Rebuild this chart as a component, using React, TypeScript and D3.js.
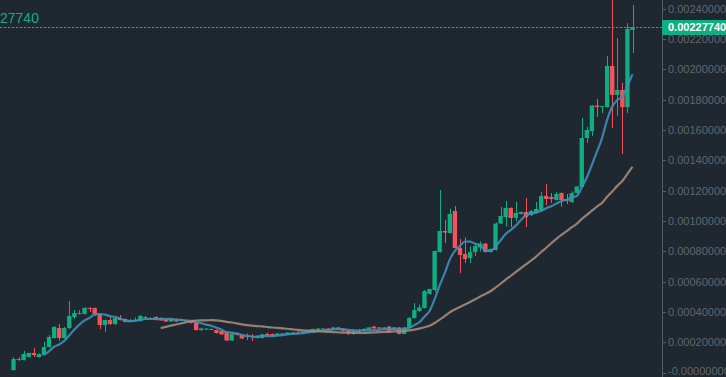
import React from 'react';
import * as d3 from 'd3';

const opens = [
  0.000016, 0.000082, 0.000082, 0.000102, 0.000129, 0.000102, 0.000115, 0.000168, 0.000227, 0.000293,
  0.000227, 0.000293, 0.000366, 0.000386, 0.000386, 0.000425, 0.000425, 0.000386, 0.000313, 0.000346,
  0.000320, 0.000359, 0.000353, 0.000340, 0.000340, 0.000340, 0.000359, 0.000356, 0.000366, 0.000359,
  0.000353, 0.000336, 0.000353, 0.000343, 0.000346, 0.000343, 0.000330, 0.000280, 0.000283, 0.000283,
  0.000280, 0.000274, 0.000267, 0.000211, 0.000257, 0.000251, 0.000244, 0.000241, 0.000227, 0.000227,
  0.000254, 0.000254, 0.000247, 0.000251, 0.000251, 0.000257, 0.000264, 0.000260, 0.000264, 0.000264,
  0.000280, 0.000283, 0.000290, 0.000283, 0.000297, 0.000287, 0.000280, 0.000257, 0.000277, 0.000277,
  0.000283, 0.000303, 0.000297, 0.000290, 0.000303, 0.000280, 0.000297, 0.000254, 0.000293, 0.000359,
  0.000405, 0.000425, 0.000518, 0.000544, 0.000794, 0.000933, 0.000920, 0.001065, 0.000821, 0.000781,
  0.000755, 0.000794, 0.000824, 0.000850, 0.000794, 0.000808, 0.000982, 0.001025, 0.001085, 0.001019,
  0.001045, 0.001058, 0.001038, 0.001052, 0.001071, 0.001164, 0.001157, 0.001137, 0.001183, 0.001144,
  0.001124, 0.001183, 0.001223, 0.001546, 0.001592, 0.001760, 0.001750, 0.001750, 0.002021, 0.001830,
  0.001863, 0.001750, 0.002258,
];

const highs = [
  0.000102, 0.000102, 0.000142, 0.000129, 0.000162, 0.000125, 0.000201, 0.000247, 0.000307, 0.000320,
  0.000300, 0.000471, 0.000412, 0.000412, 0.000432, 0.000432, 0.000429, 0.000389, 0.000349, 0.000366,
  0.000363, 0.000379, 0.000356, 0.000353, 0.000363, 0.000379, 0.000373, 0.000366, 0.000373, 0.000363,
  0.000356, 0.000359, 0.000356, 0.000353, 0.000349, 0.000346, 0.000333, 0.000297, 0.000290, 0.000290,
  0.000283, 0.000277, 0.000270, 0.000260, 0.000260, 0.000254, 0.000257, 0.000254, 0.000247, 0.000254,
  0.000264, 0.000257, 0.000260, 0.000260, 0.000264, 0.000267, 0.000274, 0.000270, 0.000277, 0.000290,
  0.000293, 0.000293, 0.000293, 0.000303, 0.000300, 0.000290, 0.000283, 0.000274, 0.000287, 0.000293,
  0.000300, 0.000307, 0.000300, 0.000300, 0.000307, 0.000300, 0.000300, 0.000300, 0.000366, 0.000458,
  0.000448, 0.000544, 0.000551, 0.000804, 0.001203, 0.001005, 0.001081, 0.001098, 0.000880, 0.000890,
  0.000831, 0.000854, 0.000864, 0.000854, 0.000818, 0.000989, 0.001091, 0.001131, 0.001088, 0.001127,
  0.001061, 0.001150, 0.001071, 0.001124, 0.001190, 0.001243, 0.001183, 0.001190, 0.001187, 0.001177,
  0.001193, 0.001230, 0.001678, 0.001619, 0.001764, 0.001803, 0.001757, 0.002087, 0.002456, 0.002205,
  0.001909, 0.002304, 0.002423,
];

const lows = [
  0.000013, 0.000076, 0.000079, 0.000099, 0.000102, 0.000099, 0.000112, 0.000165, 0.000224, 0.000208,
  0.000224, 0.000287, 0.000353, 0.000382, 0.000382, 0.000399, 0.000373, 0.000287, 0.000267, 0.000313,
  0.000313, 0.000343, 0.000330, 0.000333, 0.000336, 0.000336, 0.000353, 0.000353, 0.000343, 0.000340,
  0.000333, 0.000333, 0.000333, 0.000340, 0.000333, 0.000323, 0.000277, 0.000274, 0.000280, 0.000280,
  0.000257, 0.000247, 0.000208, 0.000208, 0.000244, 0.000221, 0.000214, 0.000208, 0.000224, 0.000224,
  0.000241, 0.000241, 0.000244, 0.000247, 0.000247, 0.000254, 0.000254, 0.000257, 0.000260, 0.000260,
  0.000277, 0.000280, 0.000277, 0.000280, 0.000283, 0.000270, 0.000247, 0.000247, 0.000264, 0.000274,
  0.000280, 0.000290, 0.000287, 0.000287, 0.000267, 0.000277, 0.000251, 0.000251, 0.000287, 0.000356,
  0.000402, 0.000422, 0.000514, 0.000531, 0.000791, 0.000854, 0.000916, 0.000818, 0.000656, 0.000722,
  0.000722, 0.000768, 0.000798, 0.000791, 0.000791, 0.000804, 0.000979, 0.000963, 0.000959, 0.000996,
  0.001042, 0.000959, 0.001032, 0.001048, 0.001068, 0.001104, 0.001118, 0.001134, 0.001094, 0.001111,
  0.001118, 0.001180, 0.001220, 0.001513, 0.001559, 0.001685, 0.001711, 0.001747, 0.001612, 0.001691,
  0.001441, 0.001711, 0.002106,
];

const closes = [
  0.000089, 0.000089, 0.000122, 0.000129, 0.000115, 0.000122, 0.000168, 0.000234, 0.000300, 0.000227,
  0.000293, 0.000373, 0.000392, 0.000392, 0.000425, 0.000419, 0.000386, 0.000313, 0.000346, 0.000320,
  0.000359, 0.000346, 0.000333, 0.000346, 0.000346, 0.000373, 0.000366, 0.000359, 0.000346, 0.000343,
  0.000336, 0.000356, 0.000336, 0.000349, 0.000336, 0.000326, 0.000280, 0.000290, 0.000290, 0.000287,
  0.000260, 0.000251, 0.000211, 0.000257, 0.000247, 0.000224, 0.000237, 0.000234, 0.000237, 0.000251,
  0.000247, 0.000244, 0.000257, 0.000257, 0.000264, 0.000264, 0.000257, 0.000270, 0.000277, 0.000287,
  0.000290, 0.000290, 0.000280, 0.000297, 0.000283, 0.000274, 0.000257, 0.000274, 0.000270, 0.000287,
  0.000297, 0.000290, 0.000290, 0.000297, 0.000270, 0.000297, 0.000254, 0.000297, 0.000359, 0.000412,
  0.000429, 0.000537, 0.000551, 0.000801, 0.000933, 0.000923, 0.001045, 0.000821, 0.000775, 0.000748,
  0.000794, 0.000834, 0.000850, 0.000794, 0.000814, 0.000982, 0.001032, 0.001085, 0.001019, 0.001052,
  0.001058, 0.001025, 0.001065, 0.001078, 0.001164, 0.001144, 0.001144, 0.001177, 0.001137, 0.001131,
  0.001183, 0.001226, 0.001546, 0.001599, 0.001760, 0.001750, 0.001757, 0.002021, 0.001830, 0.001863,
  0.001750, 0.002265, 0.0022774,
];

const priceTicks = [0, 0.0002, 0.0004, 0.0006, 0.0008, 0.001, 0.0012, 0.0014, 0.0016, 0.0018, 0.002, 0.0022, 0.0024];
const tickLabels = [
  '-0.00000000', '0.00020000', '0.00040000', '0.00060000', '0.00080000', '0.00100000', '0.00120000',
  '0.00140000', '0.00160000', '0.00180000', '0.00200000', '0.00220000', '0.00240000',
];
const lastPrice = 0.0022774;
const lastLabel = '0.00227740';
const legendText = '27740';
const maPeriods = [7, 30];

const BG = '#1f2731';
const UP = '#0fae80';
const DOWN = '#f4535d';
const MA_COLORS = ['#3e8fb2', '#a28b7b'];
const AXIS_TEXT = '#61666d';
const AXIS_LINE = '#5a5f64';

function movingAverage(values: number[], p: number): (number | null)[] {
  return values.map((_, i) => (i < p - 1 ? null : (d3.mean(values.slice(i - p + 1, i + 1)) as number)));
}

export default function App() {
  const W = 726;
  const H = 377;
  const axisX = 662;
  const n = closes.length;
  const idx = d3.range(n);

  const x = d3.scaleBand<number>().domain(idx).range([10.96, 635.04]).paddingInner(0.14).paddingOuter(0.07);
  const bw = x.bandwidth();
  const cx = (i: number) => (x(i) as number) + bw / 2;
  const y = d3.scaleLinear().domain([0, 0.0024]).range([372.5, 8.5]);

  const maLines = maPeriods.map((p) => {
    const ma = movingAverage(closes, p);
    const line = d3
      .line<number>()
      .defined((i) => ma[i] != null)
      .x((i) => cx(i))
      .y((i) => y(ma[i] as number))
      .curve(d3.curveMonotoneX);
    return line(idx) || '';
  });

  const lastY = Math.round(y(lastPrice)) + 0.5;

  return (
    <svg
      width={W}
      height={H}
      style={{ position: 'fixed', left: 0, top: 0, display: 'block', background: BG }}
      fontFamily="'Liberation Sans', Arial, sans-serif"
    >
      <rect x={0} y={0} width={W} height={H} fill={BG} />

      {/* candles */}
      <g>
        {idx.map((i) => {
          const o = opens[i];
          const c = closes[i];
          const up = c >= o;
          const col = up ? UP : DOWN;
          const top = y(Math.max(o, c));
          const bot = y(Math.min(o, c));
          const wx = Math.round(cx(i)) + 0.5;
          return (
            <g key={i}>
              <line x1={wx} x2={wx} y1={y(highs[i])} y2={y(lows[i])} stroke={col} strokeWidth={1} />
              <rect x={x(i)} y={top} width={bw} height={Math.max(1, bot - top)} fill={col} />
            </g>
          );
        })}
      </g>

      {/* moving averages */}
      {maLines.map((d, k) => (
        <path key={k} d={d} fill="none" stroke={MA_COLORS[k]} strokeWidth={2.2} strokeOpacity={0.9} />
      ))}

      {/* last price line */}
      <line x1={0} x2={axisX} y1={lastY} y2={lastY} stroke={UP} strokeWidth={1} strokeDasharray="2.5,1.5" />

      {/* price axis */}
      <line x1={axisX + 0.5} x2={axisX + 0.5} y1={0} y2={H} stroke={AXIS_LINE} strokeWidth={1} />
      {priceTicks.map((t, k) => {
        const ty = Math.round(y(t)) + 0.5;
        const textY = Math.min(ty, H - 6);
        return (
          <g key={k}>
            <line x1={axisX} x2={axisX + 4} y1={ty} y2={ty} stroke={AXIS_LINE} strokeWidth={1} />
            <text x={axisX + 6} y={textY} dy="0.35em" fontSize={11} fill={AXIS_TEXT}>
              {tickLabels[k]}
            </text>
          </g>
        );
      })}

      {/* last price label */}
      <rect x={axisX} y={lastY - 7.5} width={W - axisX} height={15} fill={UP} />
      <text x={axisX + 6} y={lastY} dy="0.35em" fontSize={11} fontWeight="bold" fill="#ffffff">
        {lastLabel}
      </text>

      {/* legend fragment */}
      <text x={0} y={23} fontSize={14} fill={UP}>
        {legendText}
      </text>
    </svg>
  );
}
